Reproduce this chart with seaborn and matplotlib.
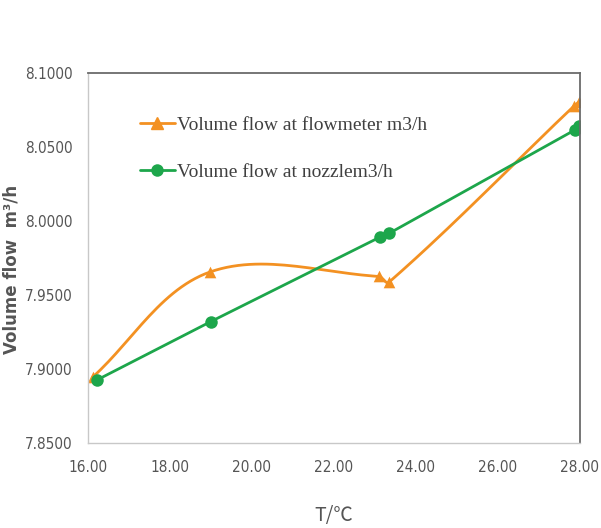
import numpy as np
import pandas as pd
import matplotlib
matplotlib.use("Agg")
import matplotlib.pyplot as plt
import seaborn as sns

# data
temp_meter = [16.12, 18.98, 23.10, 23.34, 27.85, 27.98]
flow_meter = [7.8945, 7.9655, 7.9625, 7.9585, 8.0775, 8.0805]
temp_nozzle = [16.22, 19.00, 23.12, 23.34, 27.88, 27.98]
flow_nozzle = [7.8925, 7.9320, 7.9890, 7.9915, 8.0615, 8.0640]

label_meter = "Volume flow at flowmeter m3/h"
label_nozzle = "Volume flow at nozzlem3/h"
orange = "#F39122"
green = "#1DA64B"


def smooth(x, y, sx=41.0, sy=1480.0, n=30):
    # smoothed line through the points (like Excel), tangent length tied to segment length
    p = np.column_stack([np.asarray(x, float) * sx, np.asarray(y, float) * sy])
    m = len(p)
    d = np.zeros_like(p)
    for i in range(m):
        a = p[max(i - 1, 0)]
        b = p[min(i + 1, m - 1)]
        v = b - a
        d[i] = v / np.linalg.norm(v)
    t = np.linspace(0, 1, n)[:, None]
    out = []
    for i in range(m - 1):
        p1, p2 = p[i], p[i + 1]
        L = np.linalg.norm(p2 - p1) / 3
        c1 = p1 + d[i] * L
        c2 = p2 - d[i + 1] * L
        seg = (1 - t) ** 3 * p1 + 3 * (1 - t) ** 2 * t * c1 + 3 * (1 - t) * t ** 2 * c2 + t ** 3 * p2
        out.append(seg)
    out = np.vstack(out)
    return out[:, 0] / sx, out[:, 1] / sy


sns.set_style("white")
fig = plt.figure(figsize=(6.01, 5.28), dpi=100)
ax = fig.add_axes([0.146, 0.161, 0.819, 0.701])

cx, cy = smooth(temp_meter, flow_meter)
ax.plot(cx, cy, color=orange, lw=2)
sns.lineplot(x=temp_nozzle, y=flow_nozzle, ax=ax, color=green, lw=2,
             marker="o", markersize=9, markeredgewidth=0, label=label_nozzle)
sns.scatterplot(x=temp_meter, y=flow_meter, ax=ax, color=orange, marker="^",
                s=70, linewidth=0)
# legend handle for the orange series
ax.plot([], [], color=orange, lw=2, marker="^", markersize=8, label=label_meter)

ax.set_xlim(16, 28)
ax.set_ylim(7.85, 8.10)
xt = np.arange(16, 28.1, 2)
yt = np.arange(7.85, 8.101, 0.05)
ax.set_xticks(xt)
ax.set_yticks(yt)
ax.set_xticklabels([f"{v:.2f}" for v in xt])
ax.set_yticklabels([f"{v:.4f}" for v in yt])

for lab in ax.get_xticklabels() + ax.get_yticklabels():
    lab.set_family(["Liberation Sans Narrow", "DejaVu Sans"])
    lab.set_fontstretch("condensed")
    lab.set_fontsize(11)
    lab.set_color("#555555")
ax.tick_params(axis="x", length=0, pad=12)
ax.tick_params(axis="y", length=0, pad=11)

ax.set_xlabel("T/℃", family=["Noto Sans CJK SC", "DejaVu Sans"], fontsize=14,
              color="#555555", labelpad=22)
ax.set_ylabel("Volume flow  m³/h", fontsize=12, color="#555555",
              fontweight="semibold")
ax.yaxis.set_label_coords(-0.136, 0.47)

for side in ["left", "bottom"]:
    ax.spines[side].set_color("#c8c8c8")
    ax.spines[side].set_linewidth(1)
for side in ["top", "right"]:
    ax.spines[side].set_color("#6b6b6b")
    ax.spines[side].set_linewidth(1.3)

h, l = ax.get_legend_handles_labels()
order = [l.index(label_meter), l.index(label_nozzle)]
leg = ax.legend([h[i] for i in order], [l[i] for i in order], loc="upper left",
                bbox_to_anchor=(0.07, 0.93), frameon=False, handlelength=1.8,
                handletextpad=0.1, labelspacing=1.5,
                prop={"family": ["Liberation Serif", "DejaVu Serif"], "size": 14})
for txt in leg.get_texts():
    txt.set_color("#404040")

fig.savefig("out.png", dpi=100)
